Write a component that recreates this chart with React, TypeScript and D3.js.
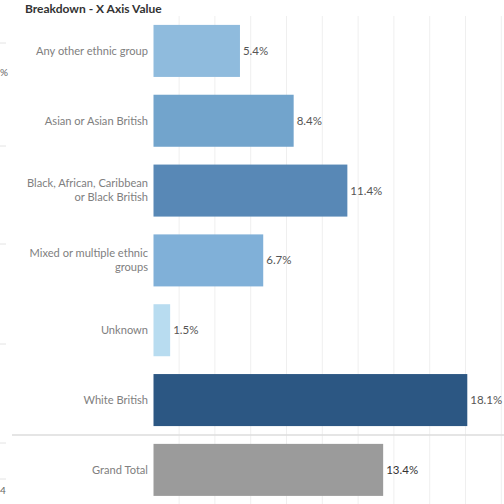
import React from "react";
import * as d3 from "d3";

const categories: string[][] = [
  ["Any other ethnic group"],
  ["Asian or Asian British"],
  ["Black, African, Caribbean", "or Black British"],
  ["Mixed or multiple ethnic", "groups"],
  ["Unknown"],
  ["White British"],
];
const values: number[] = [5.4, 8.4, 11.4, 6.7, 1.5, 18.1];
const colors: string[] = ["#8fbbdd", "#72a4cc", "#5888b6", "#80b0d8", "#b8dcf0", "#2c5783"];
const totalLabel = "Grand Total";
const totalValue = 13.4;
const totalColor = "#9b9b9b";
const gridTicks: number[] = [0, 2, 4, 6, 8, 10, 12, 14, 16, 18, 20];
const title = "Breakdown - X Axis Value";

const W = 504;
const H = 504;
const FONT = "Lato, 'Open Sans', sans-serif";

export default function App() {
  const paneLeft = 153.5;
  const x = d3.scaleLinear().domain([0, 20]).range([143.3, 501.3]);
  const top = 16;
  const step = 69.83;
  const bottom = top + step * categories.length;
  const y = d3
    .scaleBand<number>()
    .domain(d3.range(categories.length))
    .range([top, bottom])
    .paddingInner(0.255)
    .paddingOuter(0.1275);
  const yT = d3
    .scaleBand<number>()
    .domain([0])
    .range([bottom, bottom + step])
    .paddingInner(0.255)
    .paddingOuter(0.1275);
  const fmt = (v: number) => d3.format(".1f")(v) + "%";
  const leftLines = [43, 146, 244, 344, 443, 479];

  return (
    <div style={{ position: "absolute", left: 0, top: 0 }}>
      <svg width={W} height={H} style={{ display: "block", background: "#fff" }} fontFamily={FONT}>
        <defs>
          <clipPath id="pane">
            <rect x={paneLeft} y={0} width={W - paneLeft} height={H} />
          </clipPath>
        </defs>
        <text x={25} y={13} fontSize={12} fontWeight={700} fill="#333">
          {title}
        </text>
        {/* fragments of neighbouring sheet */}
        {leftLines.map((ly, i) => (
          <line key={i} x1={0} x2={6} y1={ly} y2={ly} stroke="#e4e4e4" strokeWidth={1} />
        ))}
        <text x={0} y={76} fontSize={10} fill="#666">%</text>
        <text x={0} y={494} fontSize={10} fill="#666">4</text>
        {/* gridlines */}
        <g clipPath="url(#pane)">
          {gridTicks.map((t) => (
            <line
              key={t}
              x1={x(t)}
              x2={x(t)}
              y1={top}
              y2={H}
              stroke="#efefef"
              strokeWidth={1}
            />
          ))}
        </g>
        <line x1={12} x2={W} y1={bottom} y2={bottom} stroke="#dcdcdc" strokeWidth={1.5} />
        {/* bars */}
        <g clipPath="url(#pane)">
          {values.map((v, i) => (
            <rect
              key={i}
              x={x(0)}
              y={y(i)!}
              width={x(v) - x(0)}
              height={y.bandwidth()}
              fill={colors[i]}
            />
          ))}
          <rect
            x={x(0)}
            y={yT(0)!}
            width={x(totalValue) - x(0)}
            height={yT.bandwidth()}
            fill={totalColor}
          />
        </g>
        {/* value labels */}
        {values.map((v, i) => (
          <text
            key={i}
            x={x(v) + 3}
            y={y(i)! + y.bandwidth() / 2}
            dy="0.35em"
            fontSize={11.5}
            fill="#555"
          >
            {fmt(v)}
          </text>
        ))}
        <text
          x={x(totalValue) + 3}
          y={yT(0)! + yT.bandwidth() / 2}
          dy="0.35em"
          fontSize={11.5}
          fill="#333"
        >
          {fmt(totalValue)}
        </text>
        {/* category labels */}
        {categories.map((lines, i) => {
          const cy = y(i)! + y.bandwidth() / 2;
          const lh = 14;
          const start = cy - ((lines.length - 1) * lh) / 2;
          return (
            <text key={i} textAnchor="end" fontSize={11.1} fill="#808080">
              {lines.map((l, j) => (
                <tspan key={j} x={148} y={start + j * lh} dy="0.35em">
                  {l}
                </tspan>
              ))}
            </text>
          );
        })}
        <text
          x={148}
          y={yT(0)! + yT.bandwidth() / 2}
          dy="0.35em"
          textAnchor="end"
          fontSize={11.1}
          fill="#808080"
        >
          {totalLabel}
        </text>
      </svg>
    </div>
  );
}
